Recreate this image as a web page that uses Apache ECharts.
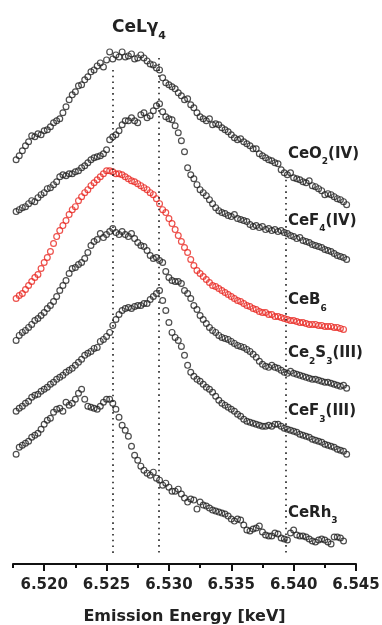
<!DOCTYPE html>
<html><head><meta charset="utf-8">
<script src="https://cdn.jsdelivr.net/npm/echarts@6/dist/echarts.min.js"></script>
<style>html,body{margin:0;padding:0;background:#fff}#c{width:382px;height:625px}</style>
</head><body><div id="c"></div>
<script>
// Emission energy grid (keV)
const energy = [
6.51775,6.51800,6.51825,6.51850,6.51875,6.51900,6.51925,6.51950,6.51975,6.52000,
6.52025,6.52050,6.52075,6.52100,6.52125,6.52150,6.52175,6.52200,6.52225,6.52250,
6.52275,6.52300,6.52325,6.52350,6.52375,6.52400,6.52425,6.52450,6.52475,6.52500,
6.52525,6.52550,6.52575,6.52600,6.52625,6.52650,6.52675,6.52700,6.52725,6.52750,
6.52775,6.52800,6.52825,6.52850,6.52875,6.52900,6.52925,6.52950,6.52975,6.53000,
6.53025,6.53050,6.53075,6.53100,6.53125,6.53150,6.53175,6.53200,6.53225,6.53250,
6.53275,6.53300,6.53325,6.53350,6.53375,6.53400,6.53425,6.53450,6.53475,6.53500,
6.53525,6.53550,6.53575,6.53600,6.53625,6.53650,6.53675,6.53700,6.53725,6.53750,
6.53775,6.53800,6.53825,6.53850,6.53875,6.53900,6.53925,6.53950,6.53975,6.54000,
6.54025,6.54050,6.54075,6.54100,6.54125,6.54150,6.54175,6.54200,6.54225,6.54250,
6.54275,6.54300,6.54325,6.54350,6.54375,6.54400,6.54425];

// Intensities (arb. units, vertically offset)
const ceO2 = [
40.5,40.9,41.4,41.9,42.3,42.9,42.8,43.1,43.0,43.4,
43.5,43.8,44.2,44.4,44.6,45.2,45.8,46.5,47.0,47.3,
47.9,48.0,48.5,48.8,49.3,49.5,49.9,50.2,49.8,50.5,
51.3,50.6,51.0,50.8,51.3,50.8,50.9,51.1,50.6,50.7,
51.0,50.7,50.4,50.1,50.0,49.7,49.5,48.7,48.2,48.0,
47.8,47.6,47.2,46.9,46.5,46.6,46.0,45.7,45.2,44.8,
44.6,44.4,44.6,44.0,44.1,44.0,43.7,43.5,43.3,43.0,
42.7,42.5,42.6,42.3,42.1,41.9,41.6,41.6,41.1,40.9,
40.7,40.5,40.4,40.2,40.1,39.5,39.2,39.0,39.2,38.7,
38.6,38.5,38.3,38.2,38.4,37.9,37.8,37.6,37.4,37.0,
37.1,37.0,36.8,36.6,36.5,36.3,36.0];
const ceF4 = [
35.3,35.5,35.7,35.8,36.1,36.4,36.3,36.7,37.0,37.2,
37.6,37.7,38.0,38.3,38.8,39.0,38.9,39.1,39.1,39.3,
39.4,39.7,39.9,40.2,40.5,40.7,40.8,40.9,41.1,41.5,
42.5,42.8,43.0,43.4,44.0,44.4,44.4,44.7,44.4,44.2,
45.0,45.2,44.7,44.9,45.4,45.9,46.1,45.3,44.8,44.6,
44.5,43.9,43.2,42.4,41.3,39.7,39.0,38.6,38.0,37.5,
37.2,36.9,36.5,36.1,35.7,35.4,35.2,35.1,34.9,34.8,
35.0,34.6,34.5,34.4,34.3,34.0,33.8,33.9,33.7,33.8,
33.5,33.6,33.4,33.5,33.3,33.4,33.2,33.1,32.9,32.8,
32.6,32.7,32.4,32.3,32.2,32.0,31.9,31.8,31.7,31.5,
31.4,31.3,31.1,30.9,30.8,30.7,30.5];
const ceB6 = [
26.6,26.9,27.1,27.5,27.9,28.3,28.7,29.0,29.6,30.2,
30.7,31.3,32.1,32.8,33.4,33.9,34.4,35.0,35.5,35.8,
36.4,36.8,37.2,37.5,37.9,38.2,38.5,38.8,39.1,39.4,
39.4,39.3,39.1,39.1,39.0,38.8,38.6,38.4,38.3,38.1,
37.9,37.7,37.5,37.2,37.0,36.6,36.1,35.5,35.2,34.6,
34.1,33.5,32.9,32.3,31.7,31.2,30.5,29.9,29.4,29.1,
28.8,28.5,28.2,27.9,27.8,27.6,27.4,27.2,27.0,26.8,
26.6,26.4,26.3,26.1,25.9,25.8,25.6,25.5,25.3,25.2,
25.2,25.0,25.0,24.8,24.8,24.7,24.6,24.5,24.4,24.4,
24.3,24.2,24.2,24.1,24.0,24.0,24.0,23.9,23.9,23.8,
23.8,23.8,23.7,23.7,23.6,23.5,null];
const ce2S3 = [
22.4,22.9,23.2,23.4,23.7,24.0,24.4,24.6,24.9,25.2,
25.6,25.9,26.3,26.8,27.4,27.9,28.4,29.1,29.6,29.7,
30.0,30.2,30.6,31.2,31.9,32.3,32.5,33.1,32.7,33.0,
33.3,33.6,33.2,33.0,33.3,33.0,32.8,33.1,32.6,32.2,
31.9,31.8,31.4,30.9,30.6,30.7,30.4,30.2,29.3,28.7,
28.4,28.3,28.3,28.1,27.4,27.1,26.6,25.9,25.5,24.9,
24.5,24.1,23.7,23.4,23.2,22.9,22.7,22.6,22.5,22.3,
22.1,21.9,21.8,21.7,21.5,21.3,21.0,20.7,20.3,20.0,
19.8,19.7,19.9,19.7,19.6,19.4,19.2,19.1,19.3,19.1,
19.0,18.9,18.8,18.7,18.6,18.5,18.5,18.4,18.3,18.2,
18.2,18.1,18.0,17.9,17.8,17.9,17.6];
const ceF3 = [
15.3,15.6,15.8,16.1,16.3,16.7,16.9,17.0,17.3,17.5,
17.7,18.0,18.2,18.5,18.7,18.9,19.2,19.4,19.6,19.9,
20.2,20.5,20.9,21.1,21.3,21.6,21.7,22.3,22.5,22.8,
23.2,23.9,24.5,25.0,25.4,25.6,25.7,25.6,25.8,25.9,
25.9,26.1,26.1,26.5,26.8,27.1,27.4,26.4,25.4,24.2,
23.2,22.7,22.4,21.8,20.9,19.9,19.2,18.8,18.5,18.3,
18.0,17.7,17.5,17.2,16.8,16.4,16.1,15.9,15.7,15.5,
15.3,15.0,14.8,14.5,14.3,14.2,14.1,14.0,13.9,13.8,
13.8,13.9,13.8,14.0,14.0,13.8,13.6,13.5,13.4,13.3,
13.2,13.0,12.9,12.8,12.7,12.5,12.4,12.3,12.2,12.0,
11.9,11.8,11.7,11.5,11.4,11.3,11.0];
const ceRh3 = [
11.0,11.7,11.9,12.1,12.3,12.7,12.9,13.1,13.5,14.0,
14.4,14.6,15.2,15.5,15.6,15.3,16.2,15.9,16.1,16.5,
17.1,17.5,16.5,15.8,15.7,15.6,15.5,15.8,16.2,16.5,
16.5,16.1,15.5,14.7,13.9,13.4,12.8,11.8,10.9,10.4,
9.8,9.4,9.1,8.9,9.2,8.6,8.4,7.9,8.1,7.7,
7.3,7.3,7.5,7.0,6.6,6.2,6.5,6.4,5.5,6.2,
5.9,5.8,5.6,5.4,5.3,5.2,5.1,5.0,4.8,4.5,
4.3,4.5,4.4,3.9,3.4,3.3,3.5,3.6,3.8,3.2,
2.9,2.8,2.8,3.1,3.0,2.6,2.5,2.4,3.1,3.4,
2.9,2.8,2.8,2.7,2.5,2.3,2.2,2.4,2.5,2.4,
2.2,2.0,2.7,2.7,2.6,2.3,null];

const seriesNames = ['CeO2(IV)','CeF4(IV)','CeB6','Ce2S3(III)','CeF3(III)','CeRh3'];
const seriesLabels = ['{m|CeO}{s|2}{m|(IV)}','{m|CeF}{s|4}{m|(IV)}','{m|CeB}{s|6}','{m|Ce}{s|2}{m|S}{s|3}{m|(III)}','{m|CeF}{s|3}{m|(III)}','{m|CeRh}{s|3}'];
const seriesData = [ceO2, ceF4, ceB6, ce2S3, ceF3, ceRh3];
const seriesColors = ['#222','#222','#e8261f','#222','#222','#222'];
const labelEnergy = 6.5395;
const labelLevels = [41.3, 34.6, 26.6, 21.3, 15.5, 5.3];

const titleText = '{t|CeLγ}{ts|4}';
const titleEnergy = 6.5276;
const titleLevel = 53.75;

const majorTicks = [6.520, 6.525, 6.530, 6.535, 6.540, 6.545];
const minorTicks = [6.5175, 6.5225, 6.5275, 6.5325, 6.5375, 6.5425];
const refLines = [6.5255, 6.5292, 6.5394];
const refLineTops = [49.5, 50.7, 38.5];
const refLineBottom = 0.8;

const FONT = "'DejaVu Sans', sans-serif";
const chart = echarts.init(document.getElementById('c'), null, {renderer: 'canvas'});

const rich = {
  m: {fontFamily: FONT, fontWeight: 'bold', fontSize: 15, color: '#222', lineHeight: 16, verticalAlign: 'top'},
  s: {fontFamily: FONT, fontWeight: 'bold', fontSize: 9, color: '#222', lineHeight: 20, verticalAlign: 'bottom'},
  t: {fontFamily: FONT, fontWeight: 'bold', fontSize: 17, color: '#222', lineHeight: 18, verticalAlign: 'top'},
  ts: {fontFamily: FONT, fontWeight: 'bold', fontSize: 11, color: '#222', lineHeight: 22, verticalAlign: 'bottom'}
};

const series = seriesData.map((vals, k) => {
  const s = {
    name: seriesNames[k],
    type: 'scatter',
    data: energy.map((e, i) => [e, vals[i]]).filter(p => p[1] != null),
    symbol: 'circle',
    symbolSize: 5.8,
    itemStyle: {color: 'rgba(0,0,0,0)', borderColor: seriesColors[k], borderWidth: 1.2},
    silent: true,
    markPoint: {
      symbol: 'circle', symbolSize: 1, silent: true,
      itemStyle: {color: 'rgba(0,0,0,0)'},
      label: {show: true, position: 'right', distance: 0, offset: [0, 4.5], rich: rich,
              formatter: () => seriesLabels[k]},
      data: [{coord: [labelEnergy, labelLevels[k]]}]
    }
  };
  if (k === 0) {
    s.markPoint.data.push({coord: [titleEnergy, titleLevel],
      label: {show: true, position: 'inside', offset: [0, 3], rich: rich, formatter: () => titleText}});
    s.markLine = {
      symbol: ['none','none'], silent: true, animation: false,
      label: {show: false},
      lineStyle: {type: [1.6, 4.2], color: '#222', width: 1.6},
      data: refLines.map((x, j) => [{coord: [x, refLineTops[j]]}, {coord: [x, refLineBottom]}])
    };
  }
  return s;
});

chart.setOption({
  backgroundColor: '#fff',
  animation: false,
  grid: {left: 13, right: 26, top: 0, bottom: 61, containLabel: false, outerBoundsMode: 'none'},
  xAxis: [{
    type: 'value', min: 6.5175, max: 6.545, position: 'bottom',
    axisLine: {show: true, lineStyle: {color: '#111', width: 2}},
    axisTick: {show: true, customValues: majorTicks, length: 7, lineStyle: {color: '#111', width: 2}},
    axisLabel: {show: true, customValues: majorTicks, margin: 14, formatter: v => v.toFixed(3),
      fontFamily: FONT, fontWeight: 'bold', fontSize: 15, color: '#222'},
    splitLine: {show: false},
    name: 'Emission Energy [keV]', nameLocation: 'middle', nameGap: 45,
    nameTextStyle: {fontFamily: FONT, fontWeight: 'bold', fontSize: 16, color: '#222'}
  }, {
    type: 'value', min: 6.5175, max: 6.545, position: 'bottom',
    axisLine: {show: false},
    axisTick: {show: true, customValues: minorTicks, length: 4, lineStyle: {color: '#111', width: 2}},
    axisLabel: {show: false},
    splitLine: {show: false}
  }],
  yAxis: {type: 'value', min: 0, max: 56.5, show: false},
  series: series
});
</script></body></html>
